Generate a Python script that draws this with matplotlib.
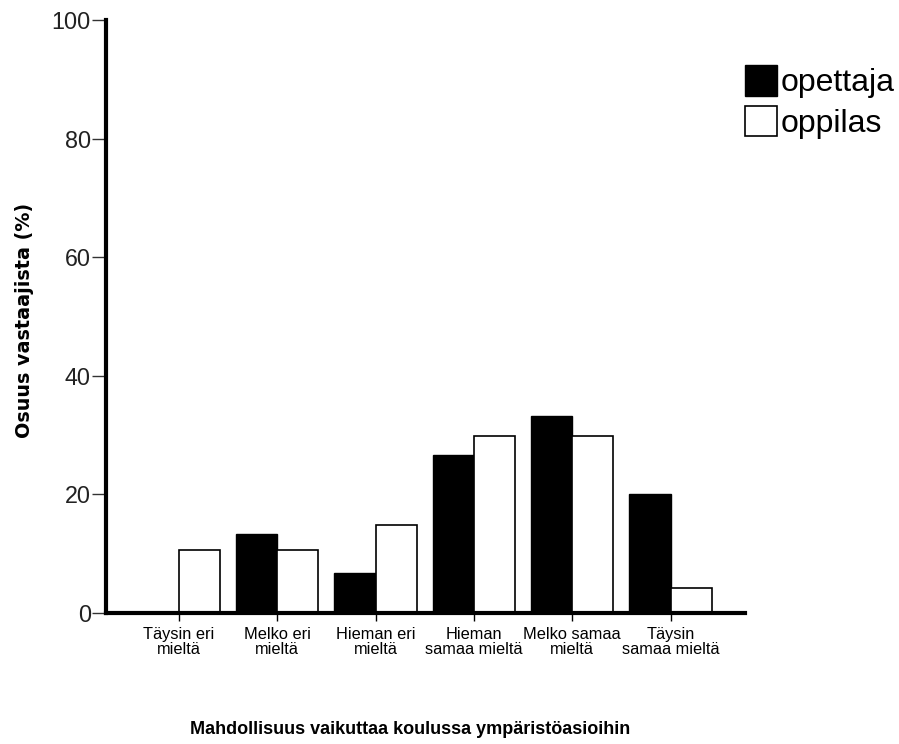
import matplotlib
matplotlib.use('Agg')
import matplotlib.pyplot as plt
import numpy as np

plt.rcParams['font.family'] = ['Liberation Sans', 'DejaVu Sans']

categories = ['Täysin eri\nmieltä', 'Melko eri\nmieltä', 'Hieman eri\nmieltä',
              'Hieman\nsamaa mieltä', 'Melko samaa\nmieltä', 'Täysin\nsamaa mieltä']
opettaja = [0, 13.3, 6.7, 26.7, 33.3, 20.0]
oppilas = [10.7, 10.7, 14.9, 29.8, 29.8, 4.3]

fig = plt.figure(figsize=(8.99, 7.44), dpi=100)
ax = fig.add_axes([0.118, 0.176, 0.711, 0.797])

x = np.arange(len(categories))
w = 0.42
ax.bar(x - w / 2, opettaja, w, color='black', edgecolor='black', linewidth=1, label='opettaja')
ax.bar(x + w / 2, oppilas, w, color='white', edgecolor='black', linewidth=1.2, label='oppilas')

ax.set_xlim(-0.74, 5.76)
ax.set_ylim(0, 100)
ax.set_yticks([0, 20, 40, 60, 80, 100])
ax.set_xticks(x)
ax.set_xticklabels(categories, fontsize=11.8, linespacing=1.0)

for s in ['top', 'right']:
    ax.spines[s].set_visible(False)
ax.spines['left'].set_linewidth(3)
ax.spines['bottom'].set_linewidth(3)
ax.tick_params(axis='y', length=10, width=1, pad=1, labelsize=16.8, color='#333333', labelcolor='#222222')
ax.tick_params(axis='x', length=6, width=1, pad=4)

ax.set_ylabel('Osuus vastaajista (%)', fontsize=13.8, fontweight='bold',
              family=['DejaVu Sans'])
ax.yaxis.set_label_coords(-0.113, 0.494)
ax.set_xlabel('Mahdollisuus vaikuttaa koulussa ympäristöasioihin', fontsize=13,
              fontweight='bold')
ax.xaxis.set_label_coords(0.476, -0.182)

ax.legend(loc='upper left', bbox_to_anchor=(0.829, 0.912), bbox_transform=fig.transFigure,
          frameon=False, fontsize=23, handlelength=1.0, handleheight=1.08,
          handletextpad=0.1, labelspacing=0.22, borderaxespad=0, borderpad=0)

fig.savefig('out.png', dpi=100)
